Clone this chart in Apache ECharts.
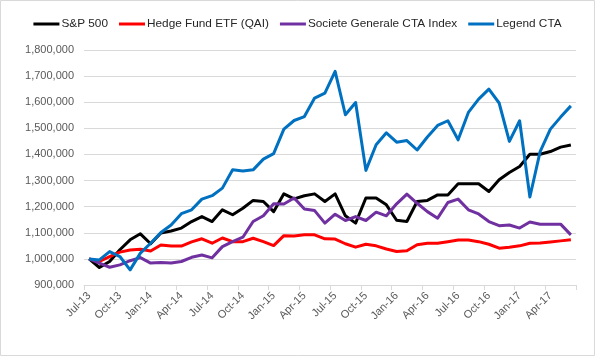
<!DOCTYPE html>
<html>
<head>
<meta charset="utf-8">
<script src="https://cdn.jsdelivr.net/npm/echarts@6/dist/echarts.min.js"></script>
<style>
html,body{margin:0;padding:0;background:#fff;}
#c{width:595px;height:356px;}
</style>
</head>
<body>
<div id="c"></div>
<script>
var months = ["Jul-13","Aug-13","Sep-13","Oct-13","Nov-13","Dec-13",
  "Jan-14","Feb-14","Mar-14","Apr-14","May-14","Jun-14","Jul-14","Aug-14","Sep-14","Oct-14","Nov-14","Dec-14",
  "Jan-15","Feb-15","Mar-15","Apr-15","May-15","Jun-15","Jul-15","Aug-15","Sep-15","Oct-15","Nov-15","Dec-15",
  "Jan-16","Feb-16","Mar-16","Apr-16","May-16","Jun-16","Jul-16","Aug-16","Sep-16","Oct-16","Nov-16","Dec-16",
  "Jan-17","Feb-17","Mar-17","Apr-17","May-17","Jun-17"];

var sp500 = [1000000,967000,990000,1035000,1073000,1096000,1058000,1099000,1107000,1118000,1143000,1162000,
  1143000,1188000,1169000,1194000,1224000,1220000,1181000,1249000,1230000,1242000,1249000,1220000,
  1249000,1165000,1137000,1233000,1233000,1207000,1148000,1143000,1220000,1224000,1245000,1245000,
  1288000,1288000,1288000,1258000,1303000,1331000,1354000,1401000,1401000,1411000,1428000,1436000];

var qai = [1000000,990000,1009000,1026000,1034000,1037000,1030000,1053000,1049000,1049000,1065000,1077000,
  1060000,1080000,1066000,1066000,1079000,1066000,1051000,1089000,1088000,1092000,1092000,1077000,
  1076000,1058000,1045000,1056000,1050000,1038000,1028000,1031000,1054000,1060000,1060000,1066000,
  1072000,1072000,1066000,1056000,1041000,1045000,1050000,1060000,1061000,1065000,1069000,1073000];

var sgCta = [1000000,984000,968000,977000,993000,1005000,984000,986000,984000,990000,1006000,1015000,
  1004000,1047000,1066000,1083000,1143000,1165000,1211000,1210000,1233000,1191000,1185000,1137000,
  1171000,1147000,1162000,1147000,1179000,1165000,1211000,1248000,1213000,1181000,1156000,1216000,
  1229000,1188000,1172000,1143000,1127000,1130000,1118000,1141000,1133000,1133000,1133000,1092000];

var legendCta = [1000000,996000,1028000,1009000,958000,1022000,1060000,1101000,1130000,1173000,1188000,1229000,
  1242000,1271000,1341000,1337000,1341000,1382000,1403000,1497000,1530000,1545000,1616000,1635000,
  1718000,1552000,1599000,1339000,1437000,1483000,1447000,1453000,1417000,1467000,1511000,1529000,
  1456000,1561000,1612000,1650000,1597000,1450000,1529000,1237000,1411000,1497000,1543000,1586000];

var seriesNames = ["S&P 500","Hedge Fund ETF (QAI)","Societe Generale CTA Index","Legend CTA"];
var seriesColors = ["#000000","#FF0000","#7030A0","#0070C0"];
var seriesData = [sp500, qai, sgCta, legendCta];

var chart = echarts.init(document.getElementById('c'), null, {renderer:'canvas'});
var fontFam = '"Liberation Sans", Arial, sans-serif';

chart.setOption({
  animation:false,
  backgroundColor:'#ffffff',
  graphic:[{type:'rect',shape:{x:0.5,y:0.5,width:594,height:355},style:{fill:'none',stroke:'#D9D9D9',lineWidth:1},silent:true}],
  legend:{
    top:13,
    left:'center',
    icon:'rect',
    itemWidth:26,
    itemHeight:3,
    itemGap:11,
    textStyle:{fontFamily:fontFam,fontSize:11.8,color:'#262626',padding:[0,0,0,-3]},
    data:seriesNames
  },
  grid:{left:84,right:19,top:50,bottom:71},
  xAxis:{
    type:'category',
    data:months,
    boundaryGap:true,
    axisLine:{lineStyle:{color:'#D9D9D9',width:1}},
    axisTick:{show:true,interval:2,length:5,lineStyle:{color:'#D9D9D9'}},
    axisLabel:{interval:2,rotate:45,margin:9,fontFamily:fontFam,fontSize:11,color:'#595959'},
    splitLine:{show:false}
  },
  yAxis:{
    type:'value',
    min:900000,
    max:1800000,
    interval:100000,
    axisLine:{show:false},
    axisTick:{show:false},
    axisLabel:{margin:10,fontFamily:fontFam,fontSize:11,color:'#595959',
      formatter:function(v){return v.toString().replace(/\B(?=(\d{3})+(?!\d))/g, ',');}},
    splitLine:{lineStyle:{color:'#D9D9D9',width:1}}
  },
  series:seriesNames.map(function(n,i){
    return {name:n,type:'line',data:seriesData[i],showSymbol:false,symbol:'none',
      lineStyle:{color:seriesColors[i],width:3,join:'round'},itemStyle:{color:seriesColors[i]},z:2+i};
  })
});
</script>
</body>
</html>
